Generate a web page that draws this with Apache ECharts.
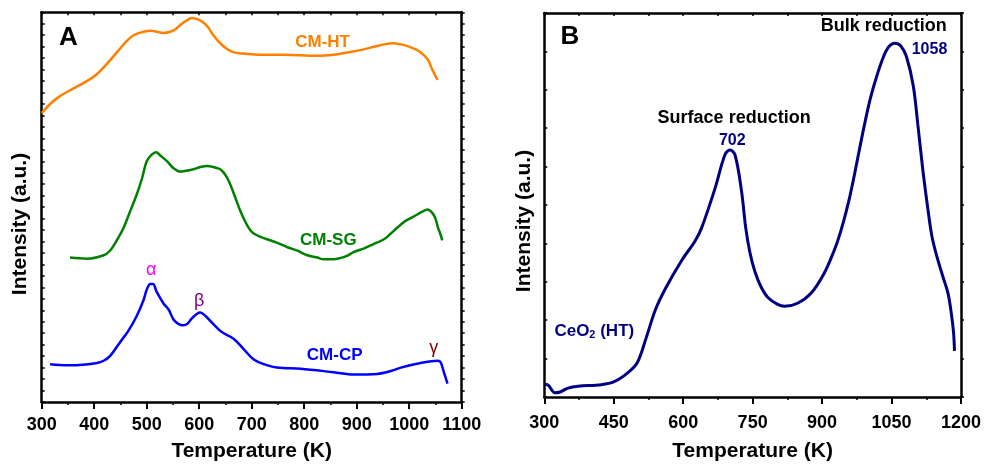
<!DOCTYPE html>
<html><head><meta charset="utf-8">
<script src="https://cdn.jsdelivr.net/npm/echarts@6/dist/echarts.min.js"></script>
<style>html,body{margin:0;padding:0;background:#fff}#c{width:984px;height:467px}</style>
</head><body><div id="c"></div>
<script>
// ---- Panel A data (temperature K, intensity a.u.) ----
const htT = [300,316,332,354,386,405,424,443,462,475,494,507,519,532,545,554,567,580,586,596,605,615,627,640,653,666,685,717,761,825,856,882,907,933,952,968,984,1000,1019,1035,1044,1054];
const htY = [25.2,26.0,26.6,27.2,28.0,28.6,29.5,30.5,31.5,32.0,32.3,32.4,32.3,32.2,32.3,32.5,33.0,33.4,33.5,33.4,33.2,32.8,32.0,31.3,30.8,30.5,30.4,30.3,30.3,30.2,30.3,30.5,30.7,31.0,31.2,31.3,31.2,31.0,30.6,29.9,29.0,28.1];
const sgT = [354,386,418,430,443,456,469,481,491,500,510,518,526,539,551,564,577,589,602,615,627,640,650,659,669,678,688,697,704,717,729,748,768,787,806,825,837,850,863,879,895,914,933,952,965,977,993,1009,1025,1035,1044,1050,1055,1059,1063];
const sgY = [12.6,12.5,12.8,13.2,14.1,15.2,16.7,18.1,19.5,21.0,21.6,21.8,21.5,21.0,20.4,20.1,20.2,20.3,20.5,20.6,20.5,20.3,19.8,19.0,17.8,16.7,15.7,15.0,14.7,14.4,14.2,13.9,13.5,13.2,12.8,12.6,12.45,12.45,12.5,12.7,13.1,13.4,13.8,14.2,14.7,15.2,15.8,16.2,16.6,16.8,16.5,16.0,15.2,14.7,14.1];
const cpT = [316,348,379,405,418,430,449,465,481,494,500,507,512,519,532,542,551,561,569,577,586,596,602,612,627,643,666,685,704,723,748,793,856,895,939,965,984,1022,1054,1060,1066,1073];
const cpY = [3.3,3.2,3.25,3.4,3.6,4.0,5.2,6.2,7.5,8.9,9.8,10.3,10.3,9.6,8.6,8.05,7.2,6.8,6.7,6.8,7.3,7.7,7.8,7.5,6.8,6.1,5.5,4.6,3.7,3.3,3.0,2.9,2.6,2.4,2.45,2.7,3.0,3.4,3.6,3.45,2.6,1.6];
// ---- Panel B data ----
const ceT = [301,309,323,334,351,373,423,451,480,501,519,540,562,597,626,640,669,690,701,712,726,735,744,755,768,783,804,819,847,876,904,926,936,947,958,967,975,990,1004,1018,1033,1044,1057,1070,1082,1097,1107,1118,1129,1137,1147,1161,1172,1179,1184,1186];
const ceY = [0.34,0.30,0.11,0.13,0.23,0.28,0.32,0.40,0.63,0.90,1.50,2.27,2.83,3.56,4.07,4.41,5.44,6.30,6.43,6.30,5.36,4.41,3.77,3.26,2.87,2.59,2.41,2.36,2.44,2.70,3.21,3.81,4.15,4.60,5.12,5.62,6.10,7.00,7.76,8.35,8.87,9.12,9.21,9.14,8.87,8.10,7.07,5.87,4.85,4.20,3.70,3.13,2.70,2.19,1.67,1.20];
// ---- tick settings ----
const xTicksA = {min:300, max:1100, interval:100, topInterval:50};
const xTicksB = {min:300, max:1200, interval:150, topInterval:75};
// ---- annotations: [x, y, text, color, size, weight] ----
const annA = [
  [351,31.8,'A','#000',26,'bold'],
  [835,31.4,'CM-HT','#ff8000',17,'bold'],
  [846,14.1,'CM-SG','#008000',17,'bold'],
  [858,4.1,'CM-CP','#0000ff',17,'bold'],
  [508.5,11.5,'α','#ff00ff',18,'normal'],
  [600,8.85,'β','#800080',18,'normal'],
  [1046.6,4.7,'γ','#800000',18,'normal']
];
const annB = [
  [355,9.39,'B','#000',26,'bold'],
  [710,7.27,'Surface reduction','#000',18,'bold'],
  [706,6.68,'702','#000080',16,'bold'],
  [1033,9.66,'Bulk reduction','#000',18,'bold'],
  [1132,9.04,'1058','#000080',16,'bold']
];
const ceLabel = [408, 1.72];
const FONT = 'Liberation Sans, Arial, sans-serif';
const zip = (a,b)=>a.map((v,i)=>[v,b[i]]);

function xAxes(g, t, nameGap, labelMargin){
  const line = {show:true, onZero:false, lineStyle:{color:'#000', width:2.5}};
  return [
    {gridIndex:g, type:'value', position:'bottom', min:t.min, max:t.max, interval:t.interval,
     axisLine:line, axisTick:{show:true, inside:false, length:7, lineStyle:{color:'#000', width:2}},
     minorTick:{show:true, splitNumber:2, length:3, lineStyle:{color:'#000', width:1.5}},
     splitLine:{show:false}, minorSplitLine:{show:false},
     axisLabel:{show:true, color:'#000', fontFamily:FONT, fontWeight:'bold', fontSize:18, margin:labelMargin,
       formatter:v=>String(v)},
     name:'Temperature (K)', nameLocation:'middle', nameGap:nameGap,
     nameTextStyle:{color:'#000', fontFamily:FONT, fontWeight:'bold', fontSize:21}},
    {gridIndex:g, type:'value', position:'top', min:t.min, max:t.max, interval:t.topInterval,
     axisLine:line, axisTick:{show:true, inside:true, length:3, lineStyle:{color:'#000', width:1.5}},
     splitLine:{show:false}, axisLabel:{show:false}}
  ];
}
function yAxes(g, max){
  const line = {show:true, onZero:false, lineStyle:{color:'#000', width:2.5}};
  return [
    {gridIndex:g, type:'value', position:'left', min:0, max:max, interval:1,
     axisLine:line, axisTick:{show:true, inside:true, length:3, lineStyle:{color:'#000', width:1.5}},
     splitLine:{show:false}, axisLabel:{show:false}},
    {gridIndex:g, type:'value', position:'right', min:0, max:max, interval:1,
     axisLine:line, axisTick:{show:true, inside:false, length:3, lineStyle:{color:'#000', width:1.5}},
     splitLine:{show:false}, axisLabel:{show:false}}
  ];
}
function lineSeries(name, x, y, color, width, xi, yi){
  return {name, type:'line', xAxisIndex:xi, yAxisIndex:yi, data:zip(x,y), smooth:0.35,
    showSymbol:false, symbol:'none', silent:true, lineStyle:{color, width}, z:3};
}
function lbl(text, color, size, weight){
  return {show:true, position:'inside', formatter:text, color, fontSize:size, fontWeight:weight,
    fontFamily:FONT, opacity:1, textBorderWidth:0, textShadowBlur:0};
}
function annSeries(list, xi, yi){
  return {type:'scatter', xAxisIndex:xi, yAxisIndex:yi, silent:true, symbolSize:1,
    itemStyle:{color:'#fff', opacity:1}, z:5,
    data:list.map(a=>({value:[a[0],a[1]], label:lbl(a[2],a[3],a[4],a[5])}))};
}

const option = {
  animation:false,
  backgroundColor:'#fff',
  grid:[
    {left:41.7, right:522.3, top:12.3, bottom:60.3},
    {left:544.3, right:19, top:12.9, bottom:65.3}
  ],
  xAxis:[...xAxes(0,xTicksA,39,14), ...xAxes(1,xTicksB,44,17)],
  yAxis:[...yAxes(0,34), ...yAxes(1,10)],
  graphic:[
    {type:'text', x:20, y:224, rotation:Math.PI/2,
     style:{text:'Intensity (a.u.)', font:'bold 21px '+FONT, fill:'#000', textAlign:'center', textVerticalAlign:'middle', align:'center', verticalAlign:'middle'}},
    {type:'text', x:524, y:221, rotation:Math.PI/2,
     style:{text:'Intensity (a.u.)', font:'bold 21px '+FONT, fill:'#000', textAlign:'center', textVerticalAlign:'middle', align:'center', verticalAlign:'middle'}}
  ],
  series:[
    lineSeries('CM-HT', htT, htY, '#ff8000', 2.5, 0, 0),
    lineSeries('CM-SG', sgT, sgY, '#008000', 2.5, 0, 0),
    lineSeries('CM-CP', cpT, cpY, '#0000ff', 2.5, 0, 0),
    lineSeries('CeO2 (HT)', ceT, ceY, '#000080', 3, 2, 2),
    annSeries(annA, 0, 0),
    annSeries(annB, 2, 2),
    {type:'scatter', xAxisIndex:2, yAxisIndex:2, silent:true, symbolSize:1, itemStyle:{color:'#fff'}, z:5,
     data:[{value:ceLabel, label:{show:true, position:'inside', opacity:1, textBorderWidth:0, formatter:'{a|CeO}{s|2}{a| (HT)}',
       rich:{a:{color:'#000080', fontSize:17, fontWeight:'bold', fontFamily:FONT, textBorderWidth:0},
             s:{color:'#000080', fontSize:11, fontWeight:'bold', fontFamily:FONT, textBorderWidth:0, verticalAlign:'bottom', padding:[8,0,0,0]}}}}]}
  ]
};
const chart = echarts.init(document.getElementById('c'), null, {renderer:'canvas'});
chart.setOption(option);
</script></body></html>
